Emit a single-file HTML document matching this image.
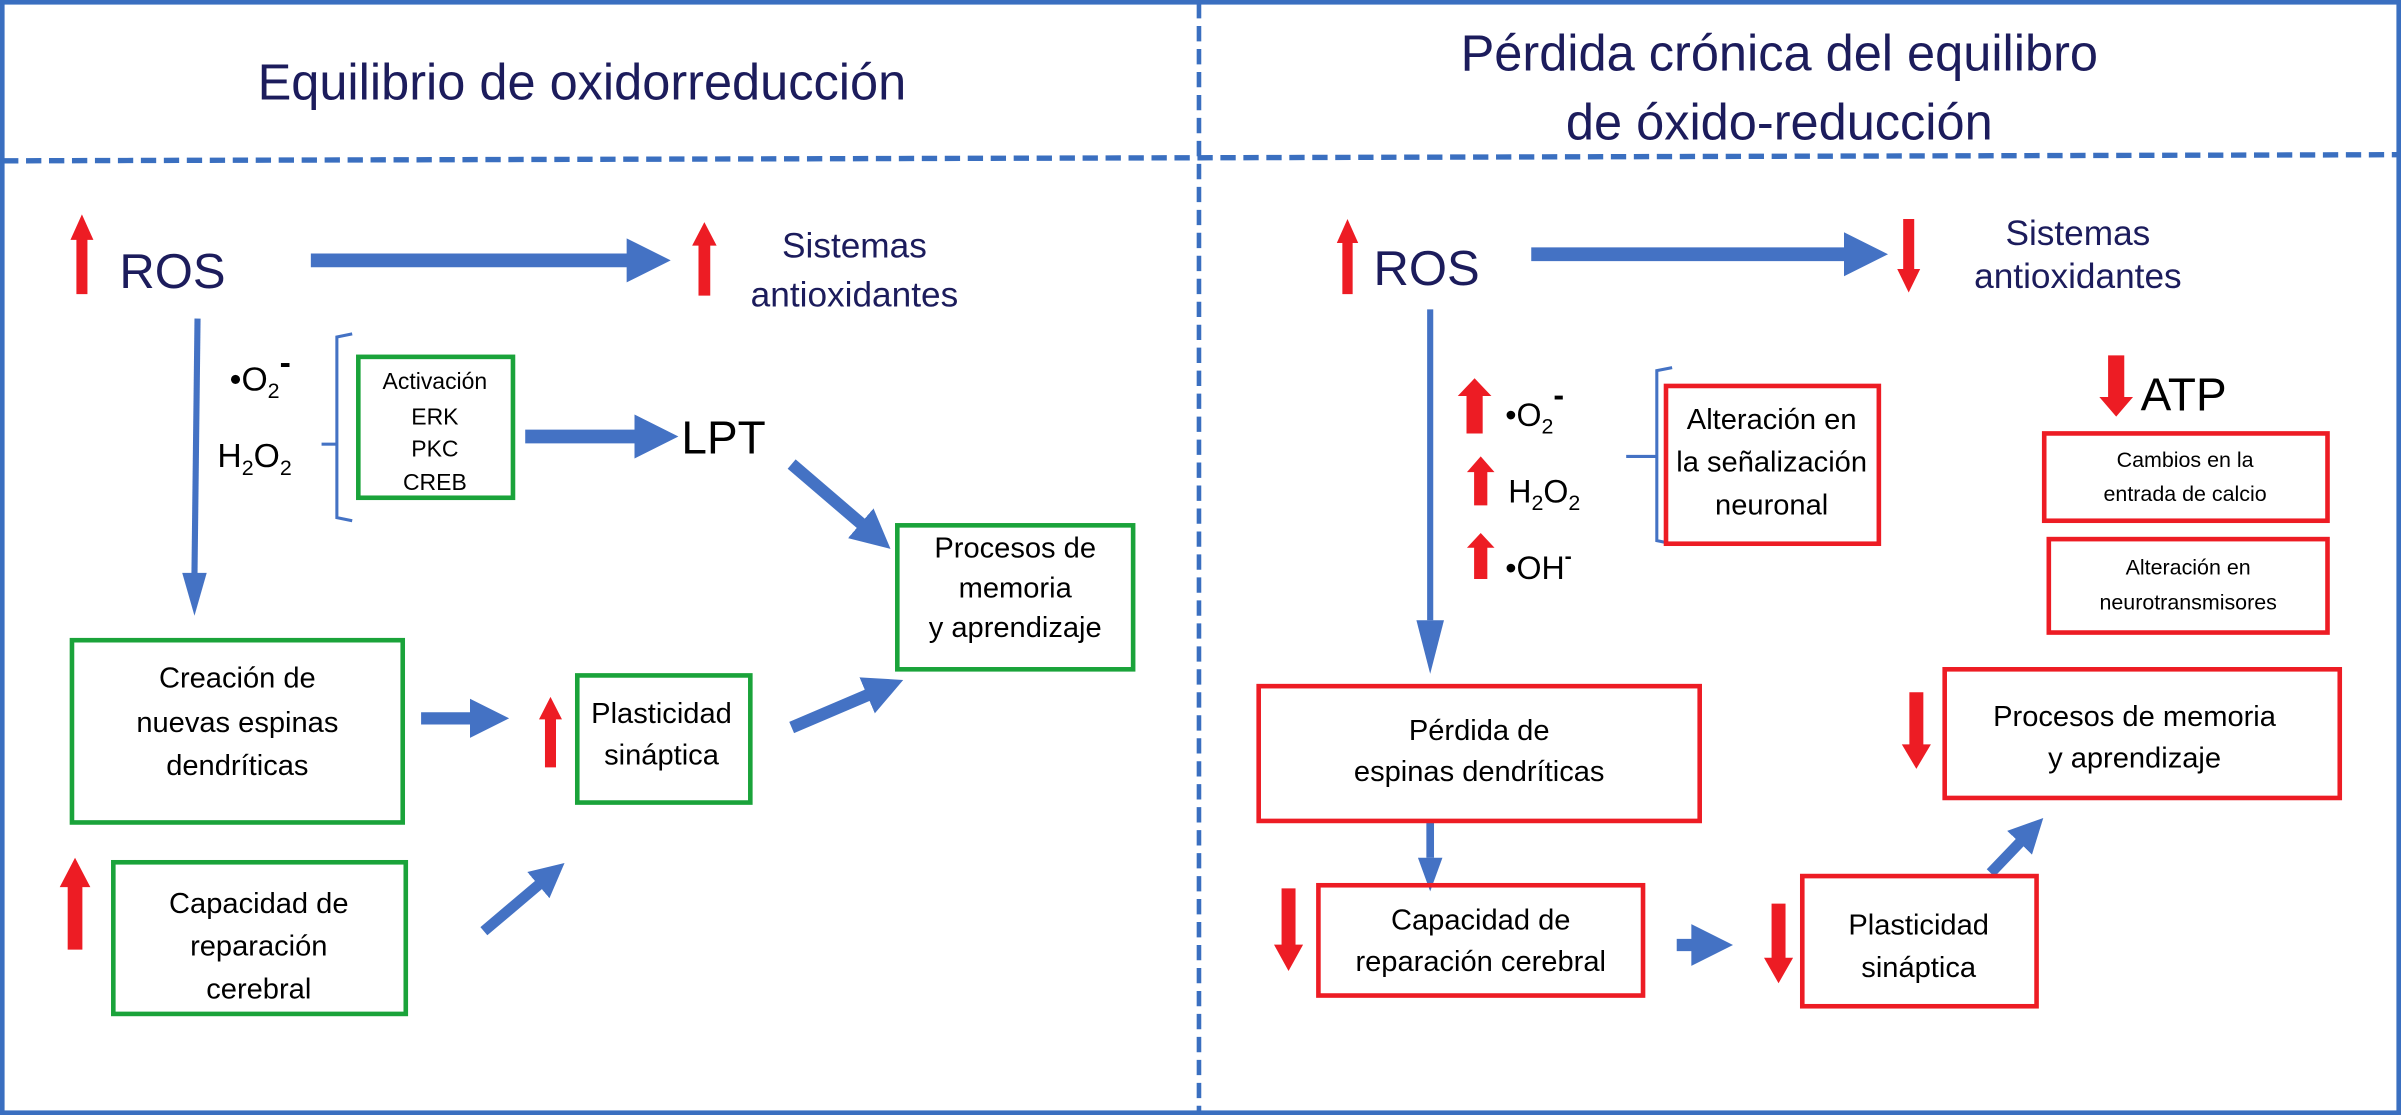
<!DOCTYPE html>
<html><head><meta charset="utf-8"><style>
html,body{margin:0;padding:0;background:#fff}
svg{display:block}
text{font-family:"Liberation Sans",sans-serif}
.t{fill:#1c1c5c}
.b{fill:#000}
</style></head><body>
<svg width="2401" height="1115" viewBox="0 0 1568 728" preserveAspectRatio="none" xmlns="http://www.w3.org/2000/svg">
<defs>
<path id="up" d="M0.5 0 L1 0.32 L0.74 0.32 L0.74 1 L0.26 1 L0.26 0.32 L0 0.32Z"/>
<path id="dn" d="M0.5 1 L1 0.68 L0.74 0.68 L0.74 0 L0.26 0 L0.26 0.68 L0 0.68Z"/>
<marker id="ah" viewBox="0 0 10 10" refX="2" refY="5" markerWidth="3.2" markerHeight="3.6" orient="auto"><path d="M0 0 L10 5 L0 10Z" fill="#4472c4"/></marker>
<marker id="ah2" viewBox="0 0 10 10" refX="2" refY="5" markerWidth="4" markerHeight="3.4" orient="auto"><path d="M0 0 L10 5 L0 10Z" fill="#4472c4"/></marker>
</defs>
<rect x="0" y="0" width="1568" height="728" fill="#fff"/>
<rect x="1.5" y="1.5" width="1565" height="725" fill="none" stroke="#3a6fc0" stroke-width="3"/>
<line x1="2" y1="105" x2="1566" y2="101" stroke="#3a6fc0" stroke-width="3.5" stroke-dasharray="10,5"/>
<line x1="783" y1="2" x2="783" y2="726" stroke="#3a6fc0" stroke-width="3" stroke-dasharray="10,5"/>

<text x="380" y="65" font-size="33" text-anchor="middle" class="t">Equilibrio de oxidorreducción</text>
<text x="1162" y="46" font-size="33" text-anchor="middle" class="t">Pérdida crónica del equilibro</text>
<text x="1162" y="91" font-size="33" text-anchor="middle" class="t">de óxido-reducción</text>

<g fill="#4472c4" stroke="none"></g>
<g stroke="#4472c4" fill="none">
<!-- left -->
<line x1="203" y1="170" x2="415" y2="170" stroke-width="9" marker-end="url(#ah)"/>
<line x1="129" y1="208" x2="127" y2="375" stroke-width="4" />
<polygon points="119,374 135,374 127,402" fill="#4472c4" stroke="none"/>
<line x1="343" y1="285" x2="420" y2="285" stroke-width="9" marker-end="url(#ah)"/>
<line x1="517" y1="303" x2="566" y2="345" stroke-width="8" marker-end="url(#ah)"/>
<line x1="275" y1="469" x2="312" y2="469" stroke-width="8" marker-end="url(#ah)"/>
<line x1="517" y1="475" x2="571" y2="452" stroke-width="8" marker-end="url(#ah)"/>
<line x1="316" y1="608" x2="355" y2="575" stroke-width="7" marker-end="url(#ah)"/>
<!-- right -->
<line x1="1000" y1="166" x2="1210" y2="166" stroke-width="9" marker-end="url(#ah)"/>
<line x1="934" y1="202" x2="934" y2="405" stroke-width="4"/>
<polygon points="925,405 943,405 934,440" fill="#4472c4" stroke="none"/>
<line x1="1062" y1="298" x2="1082" y2="298" stroke-width="2"/>
<line x1="934" y1="537" x2="934" y2="560" stroke-width="5"/>
<polygon points="926,560 942,560 934,582" fill="#4472c4" stroke="none"/>
<line x1="1095" y1="617" x2="1110" y2="617" stroke-width="8" marker-end="url(#ah2)"/>
<line x1="1300" y1="570" x2="1322" y2="547" stroke-width="7" marker-end="url(#ah)"/>
<!-- brackets -->
<path d="M230 218 L220 220 L220 338 L230 340" stroke-width="2"/>
<line x1="210" y1="290" x2="220" y2="290" stroke-width="2"/>
<path d="M1092 240 L1082 242 L1082 353 L1092 355" stroke-width="2"/>
</g>

<g fill="#ed1c24">
<use href="#up" transform="translate(46,140) scale(15,52)"/>
<use href="#up" transform="translate(452,145) scale(16,48)"/>
<use href="#up" transform="translate(352,455) scale(15,46)"/>
<use href="#up" transform="translate(39,560) scale(20,60)"/>
<use href="#up" transform="translate(873,143) scale(14,49)"/>
<use href="#dn" transform="translate(1239,143) scale(15,48)"/>
<use href="#up" transform="translate(952,247) scale(22,36)"/>
<use href="#up" transform="translate(958,298) scale(18,32)"/>
<use href="#up" transform="translate(958,348) scale(18,30)"/>
<use href="#dn" transform="translate(1371,232) scale(22,40)"/>
<use href="#dn" transform="translate(832,580) scale(19,54)"/>
<use href="#dn" transform="translate(1152,590) scale(19,52)"/>
<use href="#dn" transform="translate(1242,452) scale(19,50)"/>
</g>

<g fill="none" stroke-width="3">
<rect x="234" y="233" width="101" height="92" stroke="#1aa33a"/>
<rect x="586" y="343" width="154" height="94" stroke="#1aa33a"/>
<rect x="47" y="418" width="216" height="119" stroke="#1aa33a"/>
<rect x="377" y="441" width="113" height="83" stroke="#1aa33a"/>
<rect x="74" y="563" width="191" height="99" stroke="#1aa33a"/>
<rect x="1088" y="252" width="139" height="103" stroke="#ed1c24"/>
<rect x="1335" y="283" width="185" height="57" stroke="#ed1c24"/>
<rect x="1338" y="352" width="182" height="61" stroke="#ed1c24"/>
<rect x="822" y="448" width="288" height="88" stroke="#ed1c24"/>
<rect x="1270" y="437" width="258" height="84" stroke="#ed1c24"/>
<rect x="861" y="578" width="212" height="72" stroke="#ed1c24"/>
<rect x="1177" y="572" width="153" height="85" stroke="#ed1c24"/>
</g>

<text x="78" y="188" font-size="32" class="t">ROS</text>
<text x="558" y="168" font-size="23" text-anchor="middle" class="t">Sistemas</text>
<text x="558" y="200" font-size="23" text-anchor="middle" class="t">antioxidantes</text>
<text x="897" y="186" font-size="32" class="t">ROS</text>
<text x="1357" y="160" font-size="23" text-anchor="middle" class="t">Sistemas</text>
<text x="1357" y="188" font-size="23" text-anchor="middle" class="t">antioxidantes</text>

<g class="b">
<text x="150" y="255" font-size="22">•O<tspan font-size="14" dy="5">2</tspan><tspan font-size="22" dy="-16" font-weight="bold">-</tspan></text>
<text x="142" y="305" font-size="22">H<tspan font-size="14" dy="5">2</tspan><tspan dy="-5">O</tspan><tspan font-size="14" dy="5">2</tspan></text>
<text x="284" y="254" font-size="15" text-anchor="middle">Activación</text>
<text x="284" y="277" font-size="15" text-anchor="middle">ERK</text>
<text x="284" y="298" font-size="15" text-anchor="middle">PKC</text>
<text x="284" y="320" font-size="15" text-anchor="middle">CREB</text>
<text x="445" y="296" font-size="30">LPT</text>
<text x="663" y="364" font-size="19" text-anchor="middle">Procesos de</text>
<text x="663" y="390" font-size="19" text-anchor="middle">memoria</text>
<text x="663" y="416" font-size="19" text-anchor="middle">y aprendizaje</text>
<text x="155" y="449" font-size="19" text-anchor="middle">Creación de</text>
<text x="155" y="478" font-size="19" text-anchor="middle">nuevas espinas</text>
<text x="155" y="506" font-size="19" text-anchor="middle">dendríticas</text>
<text x="432" y="472" font-size="19" text-anchor="middle">Plasticidad</text>
<text x="432" y="499" font-size="19" text-anchor="middle">sináptica</text>
<text x="169" y="596" font-size="19" text-anchor="middle">Capacidad de</text>
<text x="169" y="624" font-size="19" text-anchor="middle">reparación</text>
<text x="169" y="652" font-size="19" text-anchor="middle">cerebral</text>

<text x="983" y="278" font-size="21">•O<tspan font-size="14" dy="5">2</tspan><tspan dy="-18" font-weight="bold">-</tspan></text>
<text x="985" y="328" font-size="21">H<tspan font-size="14" dy="5">2</tspan><tspan dy="-5">O</tspan><tspan font-size="14" dy="5">2</tspan></text>
<text x="983" y="378" font-size="21">•OH<tspan font-size="14" dy="-10" font-weight="bold">-</tspan></text>
<text x="1157" y="280" font-size="19" text-anchor="middle">Alteración en</text>
<text x="1157" y="308" font-size="19" text-anchor="middle">la señalización</text>
<text x="1157" y="336" font-size="19" text-anchor="middle">neuronal</text>
<text x="1398" y="268" font-size="30">ATP</text>
<text x="1427" y="305" font-size="14" text-anchor="middle">Cambios en la</text>
<text x="1427" y="327" font-size="14" text-anchor="middle">entrada de calcio</text>
<text x="1429" y="375" font-size="14" text-anchor="middle">Alteración en</text>
<text x="1429" y="398" font-size="14" text-anchor="middle">neurotransmisores</text>
<text x="966" y="483" font-size="19" text-anchor="middle">Pérdida de</text>
<text x="966" y="510" font-size="19" text-anchor="middle">espinas dendríticas</text>
<text x="1394" y="474" font-size="19" text-anchor="middle">Procesos de memoria</text>
<text x="1394" y="501" font-size="19" text-anchor="middle">y aprendizaje</text>
<text x="967" y="607" font-size="19" text-anchor="middle">Capacidad de</text>
<text x="967" y="634" font-size="19" text-anchor="middle">reparación cerebral</text>
<text x="1253" y="610" font-size="19" text-anchor="middle">Plasticidad</text>
<text x="1253" y="638" font-size="19" text-anchor="middle">sináptica</text>
</g>
</svg>
</body></html>
